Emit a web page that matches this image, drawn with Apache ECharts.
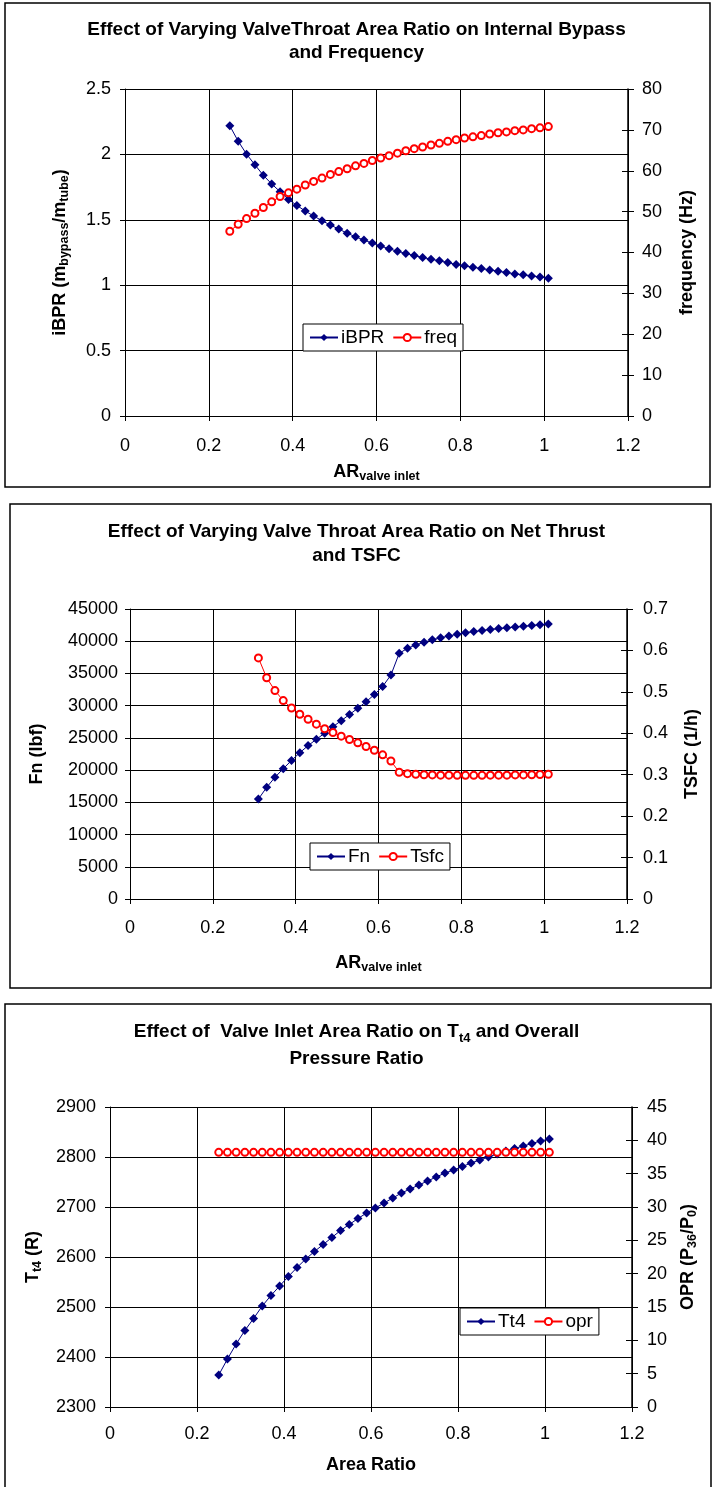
<!DOCTYPE html>
<html>
<head>
<meta charset="utf-8">
<script src="https://cdn.jsdelivr.net/npm/echarts@6/dist/echarts.min.js"></script>
<style>
  html, body { margin: 0; padding: 0; background: #fff; }
  #main { width: 713px; height: 1487px; }
</style>
</head>
<body>
<div id="main"></div>
<script>
// chart 1 - iBPR / freq
var arX1 = [0.25, 0.27, 0.29, 0.31, 0.33, 0.35, 0.37, 0.39, 0.41, 0.43, 0.45, 0.47, 0.49,
  0.51, 0.53, 0.55, 0.57, 0.59, 0.61, 0.63, 0.65, 0.67, 0.69, 0.71, 0.73, 0.75, 0.77,
  0.79, 0.81, 0.83, 0.85, 0.87, 0.89, 0.91, 0.93, 0.95, 0.97, 0.99, 1.01];
var ibpr = [2.219, 2.101, 2.002, 1.920, 1.840, 1.774, 1.715, 1.656, 1.610, 1.567, 1.529, 1.493, 1.460,
  1.429, 1.398, 1.370, 1.345, 1.322, 1.299, 1.278, 1.260, 1.242, 1.227, 1.212, 1.199, 1.186, 1.173,
  1.158, 1.148, 1.138, 1.127, 1.117, 1.107, 1.097, 1.086, 1.079, 1.071, 1.063, 1.053];
var freq = [45.2, 46.9, 48.3, 49.6, 51.0, 52.4, 53.7, 54.6, 55.5, 56.5, 57.4, 58.2, 59.1,
  59.8, 60.5, 61.2, 61.8, 62.5, 63.1, 63.7, 64.3, 64.9, 65.4, 65.8, 66.3, 66.7, 67.2,
  67.6, 68.0, 68.3, 68.6, 69.0, 69.3, 69.5, 69.8, 70.0, 70.3, 70.5, 70.8];

// chart 2 - Fn / Tsfc
var arX2 = [0.31, 0.33, 0.35, 0.37, 0.39, 0.41, 0.43, 0.45, 0.47, 0.49, 0.51, 0.53,
  0.55, 0.57, 0.59, 0.61, 0.63, 0.65, 0.67, 0.69, 0.71, 0.73, 0.75, 0.77,
  0.79, 0.81, 0.83, 0.85, 0.87, 0.89, 0.91, 0.93, 0.95, 0.97, 0.99, 1.01];
var fn = [15500, 17330, 18880, 20220, 21500, 22700, 23800, 24780, 25730, 26740, 27670, 28630,
  29600, 30600, 31720, 32980, 34760, 38120, 38900, 39420, 39850, 40220, 40530, 40820,
  41070, 41300, 41490, 41660, 41820, 41960, 42080, 42190, 42330, 42440, 42550, 42660];
var tsfc = [0.582, 0.534, 0.503, 0.479, 0.461, 0.446, 0.434, 0.422, 0.411, 0.402, 0.393, 0.385,
  0.377, 0.368, 0.359, 0.348, 0.333, 0.306, 0.3025, 0.301, 0.300, 0.2995, 0.299, 0.299,
  0.2985, 0.2985, 0.2985, 0.2985, 0.299, 0.299, 0.299, 0.2995, 0.2995, 0.300, 0.3005, 0.301];

// chart 3 - Tt4 / opr
var arX3 = arX1;
var tt4 = [2364, 2396, 2426, 2453, 2477, 2502, 2523, 2542, 2561, 2579, 2596, 2611, 2625,
  2639, 2653, 2665, 2677, 2688, 2698, 2708, 2718, 2728, 2736, 2744, 2752, 2760, 2768,
  2774, 2781, 2788, 2794, 2800, 2806, 2812, 2817, 2822, 2827, 2832, 2836];
var opr = [38.2, 38.2, 38.2, 38.2, 38.2, 38.2, 38.2, 38.2, 38.2, 38.2, 38.2, 38.2, 38.2,
  38.2, 38.2, 38.2, 38.2, 38.2, 38.2, 38.2, 38.2, 38.2, 38.2, 38.2, 38.2, 38.2, 38.2,
  38.2, 38.2, 38.2, 38.2, 38.2, 38.2, 38.2, 38.2, 38.2, 38.2, 38.2, 38.2];

var FONT = "'Liberation Sans', Arial, sans-serif";
var NAVY = '#000080';
var RED = '#ff0000';
var TICK_FS = 18;

function pairs(xs, ys) {
  return xs.map(function (x, i) { return [x, ys[i]]; });
}
// plain numbers, no thousands separator
function plain(v) {
  return String(Math.round(v * 1000) / 1000);
}

var richName = {
  b: { fontFamily: FONT, fontSize: 18, fontWeight: 'bold', color: '#000', lineHeight: 22 },
  s: { fontFamily: FONT, fontSize: 12.5, fontWeight: 'bold', color: '#000', lineHeight: 12, verticalAlign: 'bottom' }
};

// x axis (same for all three)
function xAx(gi, name, margin, gap) {
  return {
    type: 'value', gridIndex: gi, min: 0, max: 1.2, interval: 0.2,
    name: name, nameLocation: 'middle', nameGap: gap,
    nameTextStyle: { rich: richName },
    axisLine: { lineStyle: { color: '#000', width: 1 } },
    axisTick: { length: 5, lineStyle: { color: '#000' } },
    axisLabel: { margin: margin, fontFamily: FONT, fontSize: TICK_FS, color: '#000', formatter: plain },
    splitLine: { show: true, lineStyle: { color: '#000', width: 1 } }
  };
}
function yLeft(gi, min, max, step, name, gap, margin) {
  return {
    type: 'value', gridIndex: gi, position: 'left', min: min, max: max, interval: step,
    name: name, nameLocation: 'middle', nameGap: gap, nameRotate: 90,
    nameTextStyle: { rich: richName },
    axisLine: { show: true, lineStyle: { color: '#000', width: 1 } },
    axisTick: { show: true, length: 5, lineStyle: { color: '#000' } },
    axisLabel: { margin: margin, fontFamily: FONT, fontSize: TICK_FS, color: '#000', formatter: plain },
    splitLine: { show: true, lineStyle: { color: '#000', width: 1 } }
  };
}
function yRight(gi, min, max, step, name, gap, margin) {
  return {
    type: 'value', gridIndex: gi, position: 'right', min: min, max: max, interval: step,
    name: name, nameLocation: 'middle', nameGap: gap, nameRotate: 90,
    nameTextStyle: { rich: richName },
    axisLine: { show: true, lineStyle: { color: '#000', width: 1.5 } },
    axisTick: { show: true, length: 6, lineStyle: { color: '#000' } },
    axisLabel: { margin: margin, fontFamily: FONT, fontSize: TICK_FS, color: '#000', formatter: plain },
    splitLine: { show: false }
  };
}
// extra right axis only for the inner half of the crossing ticks
function yRightIn(gi, min, max, step) {
  return {
    type: 'value', gridIndex: gi, position: 'right', min: min, max: max, interval: step,
    axisLine: { show: false },
    axisTick: { show: true, inside: true, length: 6, lineStyle: { color: '#000' } },
    axisLabel: { show: false },
    splitLine: { show: false }
  };
}

function diaSeries(name, xi, yi, data) {
  return {
    name: name, type: 'line', xAxisIndex: xi, yAxisIndex: yi, data: data,
    symbol: 'diamond', symbolSize: 9, showAllSymbol: true,
    lineStyle: { color: NAVY, width: 1 },
    itemStyle: { color: NAVY },
    animation: false
  };
}
function cirSeries(name, xi, yi, data) {
  return {
    name: name, type: 'line', xAxisIndex: xi, yAxisIndex: yi, data: data,
    symbol: 'emptyCircle', symbolSize: 7, showAllSymbol: true,
    lineStyle: { color: RED, width: 1 },
    itemStyle: { color: RED, borderColor: RED, borderWidth: 1 },
    animation: false
  };
}
function legendBox(names, left, top) {
  return {
    data: names, left: left, top: top, orient: 'horizontal',
    backgroundColor: '#fff', borderColor: '#000', borderWidth: 1,
    padding: [4, 6], itemGap: 8, itemWidth: 28, itemHeight: 9,
    textStyle: { fontFamily: FONT, fontSize: 19, color: '#000', padding: [0, 0, 0, -2] }
  };
}
function titleBox(text, top, lh) {
  return {
    text: text, left: 'center', top: top, padding: 0,
    textStyle: {
      fontFamily: FONT, fontSize: 19, fontWeight: 'bold', color: '#000', lineHeight: lh,
      rich: {
        b: { fontFamily: FONT, fontSize: 19, fontWeight: 'bold', color: '#000', lineHeight: lh },
        s: { fontFamily: FONT, fontSize: 13, fontWeight: 'bold', color: '#000', lineHeight: 13, verticalAlign: 'bottom' }
      }
    }
  };
}

var chart = echarts.init(document.getElementById('main'), null, { renderer: 'canvas' });

var option = {
  backgroundColor: '#fff',
  animation: false,
  title: [
    titleBox('Effect of Varying ValveThroat Area Ratio on Internal Bypass\nand Frequency', 18, 23),
    titleBox('Effect of Varying Valve Throat Area Ratio on Net Thrust\nand TSFC', 520, 24),
    titleBox('{b|Effect of  Valve Inlet Area Ratio on T}{s|t4}{b| and Overall}\n{b|Pressure Ratio}', 1018, 27)
  ],
  legend: [
    legendBox(['iBPR', 'freq'], 303, 324),
    legendBox(['Fn', 'Tsfc'], 310, 843),
    legendBox(['Tt4', 'opr'], 460, 1308)
  ],
  grid: [
    { left: 125, top: 89, width: 503, height: 327 },
    { left: 130, top: 609, width: 497, height: 290 },
    { left: 110, top: 1107, width: 522, height: 300 }
  ],
  xAxis: [
    xAx(0, '{b|AR}{s|valve inlet}', 21, 45),
    xAx(1, '{b|AR}{s|valve inlet}', 20, 53),
    xAx(2, '{b|Area Ratio}', 18, 47)
  ],
  yAxis: [
    yLeft(0, 0, 2.5, 0.5, '{b|iBPR (m}{s|bypass}{b|/m}{s|tube}{b|)}', 54, 14),
    yRight(0, 0, 80, 10, '{b|frequency (Hz)}', 48, 14),
    yRightIn(0, 0, 80, 10),
    yLeft(1, 0, 45000, 5000, '{b|Fn (lbf)}', 82, 12),
    yRight(1, 0, 0.7, 0.1, '{b|TSFC (1/h)}', 54, 16),
    yRightIn(1, 0, 0.7, 0.1),
    yLeft(2, 2300, 2900, 100, '{b|T}{s|t4}{b| (R)}', 66, 14),
    yRight(2, 0, 45, 5, '{b|OPR (P}{s|36}{b|/P}{s|0}{b|)}', 45, 15),
    yRightIn(2, 0, 45, 5)
  ],
  series: [
    diaSeries('iBPR', 0, 0, pairs(arX1, ibpr)),
    cirSeries('freq', 0, 1, pairs(arX1, freq)),
    diaSeries('Fn', 1, 3, pairs(arX2, fn)),
    cirSeries('Tsfc', 1, 4, pairs(arX2, tsfc)),
    diaSeries('Tt4', 2, 6, pairs(arX3, tt4)),
    cirSeries('opr', 2, 7, pairs(arX3, opr))
  ],
  graphic: [
    // outer frames of the three charts
    { type: 'rect', shape: { x: 5, y: 3, width: 705, height: 484 }, style: { fill: 'none', stroke: '#000', lineWidth: 1.5 }, z: 100 },
    { type: 'rect', shape: { x: 10, y: 504, width: 701, height: 484 }, style: { fill: 'none', stroke: '#000', lineWidth: 1.5 }, z: 100 },
    { type: 'rect', shape: { x: 5, y: 1004, width: 706, height: 490 }, style: { fill: 'none', stroke: '#000', lineWidth: 1.5 }, z: 100 }
  ]
};

chart.setOption(option);
</script>
</body>
</html>
